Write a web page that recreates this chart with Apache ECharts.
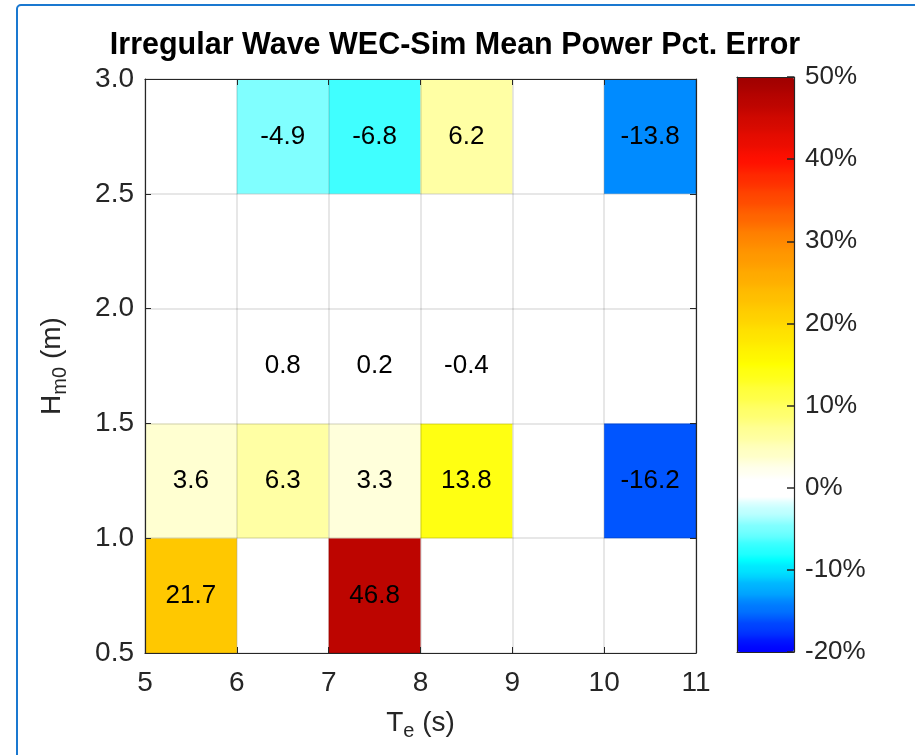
<!DOCTYPE html>
<html>
<head>
<meta charset="utf-8">
<script src="https://cdn.jsdelivr.net/npm/echarts@6/dist/echarts.min.js"></script>
<style>html,body{margin:0;padding:0;background:#fff;}#chart{width:915px;height:755px;}</style>
</head>
<body>
<div id="chart"></div>
<script>
// ---- Data ----
const teCenters = [5.5, 6.5, 7.5, 8.5, 9.5, 10.5];       // T_e cell centres (s)
const hCenters = [0.75, 1.25, 1.75, 2.25, 2.75];         // H_m0 cell centres (m)
// percent error per row (null = no data)
const row075 = [21.7, null, 46.8, null, null, null];
const row125 = [3.6, 6.3, 3.3, 13.8, null, -16.2];
const row175 = [null, 0.8, 0.2, -0.4, null, null];
const row225 = [null, null, null, null, null, null];
const row275 = [null, -4.9, -6.8, 6.2, null, -13.8];
const xTicks = [5, 6, 7, 8, 9, 10, 11];
const yTicks = [0.5, 1.0, 1.5, 2.0, 2.5, 3.0];
const cbarTicks = [-20, -10, 0, 10, 20, 30, 40, 50];
const cellW = 1, cellH = 0.5;

const rows = [row075, row125, row175, row225, row275];
const cells = [];
rows.forEach((r, j) => r.forEach((v, i) => { if (v !== null) cells.push([teCenters[i], hCenters[j], v]); }));

// ---- colormap (style) ----
const stops = [[-20,'#0000ff'],[-9,'#00ffff'],[-1,'#ffffff'],[1,'#ffffff'],[15,'#ffff00'],[30,'#ff8a00'],[40,'#ff1000'],[50,'#a00000']];
function hex2rgb(h){return [parseInt(h.substr(1,2),16),parseInt(h.substr(3,2),16),parseInt(h.substr(5,2),16)];}
function colAt(v){
  for (let k=0;k<stops.length-1;k++){
    const a=stops[k], b=stops[k+1];
    if (v>=a[0] && v<=b[0]){
      const t=(v-a[0])/(b[0]-a[0]); const ca=hex2rgb(a[1]), cb=hex2rgb(b[1]);
      return 'rgb('+ca.map((c,i)=>Math.round(c+(cb[i]-c)*t)).join(',')+')';
    }
  }
  return stops[stops.length-1][1];
}
const cmap = [];
for (let v = cbarTicks[0]; v <= cbarTicks[cbarTicks.length-1]; v += 1) { const c = colAt(v); cmap.push(c, c); }

const FONT = 'Liberation Sans, Arial, Helvetica, sans-serif';
const TXT = '#262626';
const AX = '#262626';

const chart = echarts.init(document.getElementById('chart'));
const baseX = { type:'value', min:xTicks[0], max:xTicks[xTicks.length-1], interval:1, z:10 };
const baseY = { type:'value', min:yTicks[0], max:yTicks[yTicks.length-1], interval:0.5, z:10 };
const line = { show:true, onZero:false, lineStyle:{color:AX, width:1.2} };

chart.setOption({
  animation:false,
  backgroundColor:'#fff',
  title:{ text:'Irregular Wave WEC-Sim Mean Power Pct. Error', left:450, textAlign:'center', top:25,
    textStyle:{ fontFamily:FONT, fontSize:30.5, fontWeight:'bold', color:'#000' } },
  graphic:[{ type:'rect', z:-10, shape:{x:17, y:5, width:1200, height:1200, r:4},
    style:{ fill:null, stroke:'#1a78d0', lineWidth:2 } }],
  grid:[
    { left:145, top:79, width:551, height:574 },
    { left:737, top:77, width:57, height:575 }
  ],
  xAxis:[
    Object.assign({}, baseX, { gridIndex:0, position:'bottom', axisLine:line,
      axisTick:{ inside:true, length:6, lineStyle:{color:AX} },
      axisLabel:{ fontFamily:FONT, fontSize:28, color:TXT, margin:16 },
      splitLine:{ show:true, lineStyle:{ color:'rgba(0,0,0,0.13)', width:1.5 } },
      name:'{a|T}{b|e}{a| (s)}', nameLocation:'middle', nameGap:52,
      nameTextStyle:{ rich:{ a:{fontFamily:FONT, fontSize:28, color:TXT}, b:{fontFamily:FONT, fontSize:20, color:TXT, padding:[16,0,0,0]} } } }),
    Object.assign({}, baseX, { gridIndex:0, position:'top', axisLine:line,
      axisTick:{ inside:true, length:6, lineStyle:{color:AX} }, axisLabel:{show:false}, splitLine:{show:false} }),
    { type:'value', gridIndex:1, min:0, max:1, position:'bottom', axisLine:line, axisTick:{show:false}, axisLabel:{show:false}, splitLine:{show:false}, z:10 },
    { type:'value', gridIndex:1, min:0, max:1, position:'top', axisLine:line, axisTick:{show:false}, axisLabel:{show:false}, splitLine:{show:false}, z:10 }
  ],
  yAxis:[
    Object.assign({}, baseY, { gridIndex:0, position:'left', axisLine:line,
      axisTick:{ inside:true, length:6, lineStyle:{color:AX} },
      axisLabel:{ fontFamily:FONT, fontSize:28, color:TXT, margin:11, formatter:v=>v.toFixed(1) },
      splitLine:{ show:true, lineStyle:{ color:'rgba(0,0,0,0.13)', width:1.5 } },
      name:'{a|H}{b|m0}{a| (m)}', nameLocation:'middle', nameGap:75,
      nameTextStyle:{ rich:{ a:{fontFamily:FONT, fontSize:28, color:TXT}, b:{fontFamily:FONT, fontSize:20, color:TXT, padding:[16,0,0,0]} } } }),
    Object.assign({}, baseY, { gridIndex:0, position:'right', axisLine:line,
      axisTick:{ inside:true, length:6, lineStyle:{color:AX} }, axisLabel:{show:false}, splitLine:{show:false} }),
    { type:'value', gridIndex:1, min:cbarTicks[0], max:cbarTicks[cbarTicks.length-1], interval:10, position:'right', z:10,
      axisLine:line, axisTick:{ inside:true, length:7, lineStyle:{color:AX, width:1.5} },
      axisLabel:{ fontFamily:FONT, fontSize:26, color:TXT, margin:11, formatter:'{value}%' }, splitLine:{show:false} },
    { type:'value', gridIndex:1, min:cbarTicks[0], max:cbarTicks[cbarTicks.length-1], position:'left', z:10,
      axisLine:line, axisTick:{show:false}, axisLabel:{show:false}, splitLine:{show:false} }
  ],
  visualMap:{ type:'continuous', min:cbarTicks[0], max:cbarTicks[cbarTicks.length-1], dimension:2, seriesIndex:0,
    orient:'vertical', left:737, top:77, itemWidth:57, itemHeight:575, padding:0, calculable:false,
    text:null, hoverLink:false, inRange:{ color:cmap } },
  series:[{
    type:'custom', xAxisIndex:0, yAxisIndex:0, data:cells, z:2,
    renderItem:function(params, api){
      const x = api.value(0), y = api.value(1), v = api.value(2);
      const p0 = api.coord([x - cellW/2, y + cellH/2]);
      const p1 = api.coord([x + cellW/2, y - cellH/2]);
      const c = api.coord([x, y]);
      return { type:'group', children:[
        { type:'rect', shape:{ x:p0[0], y:p0[1], width:p1[0]-p0[0], height:p1[1]-p0[1] }, style:{ fill:api.visual('color') } },
        { type:'text', x:c[0], y:c[1], style:{ text:v.toFixed(1), fill:'#000', font:'26px '+FONT, textAlign:'center', textVerticalAlign:'middle' } }
      ]};
    }
  }]
});
</script>
</body>
</html>
